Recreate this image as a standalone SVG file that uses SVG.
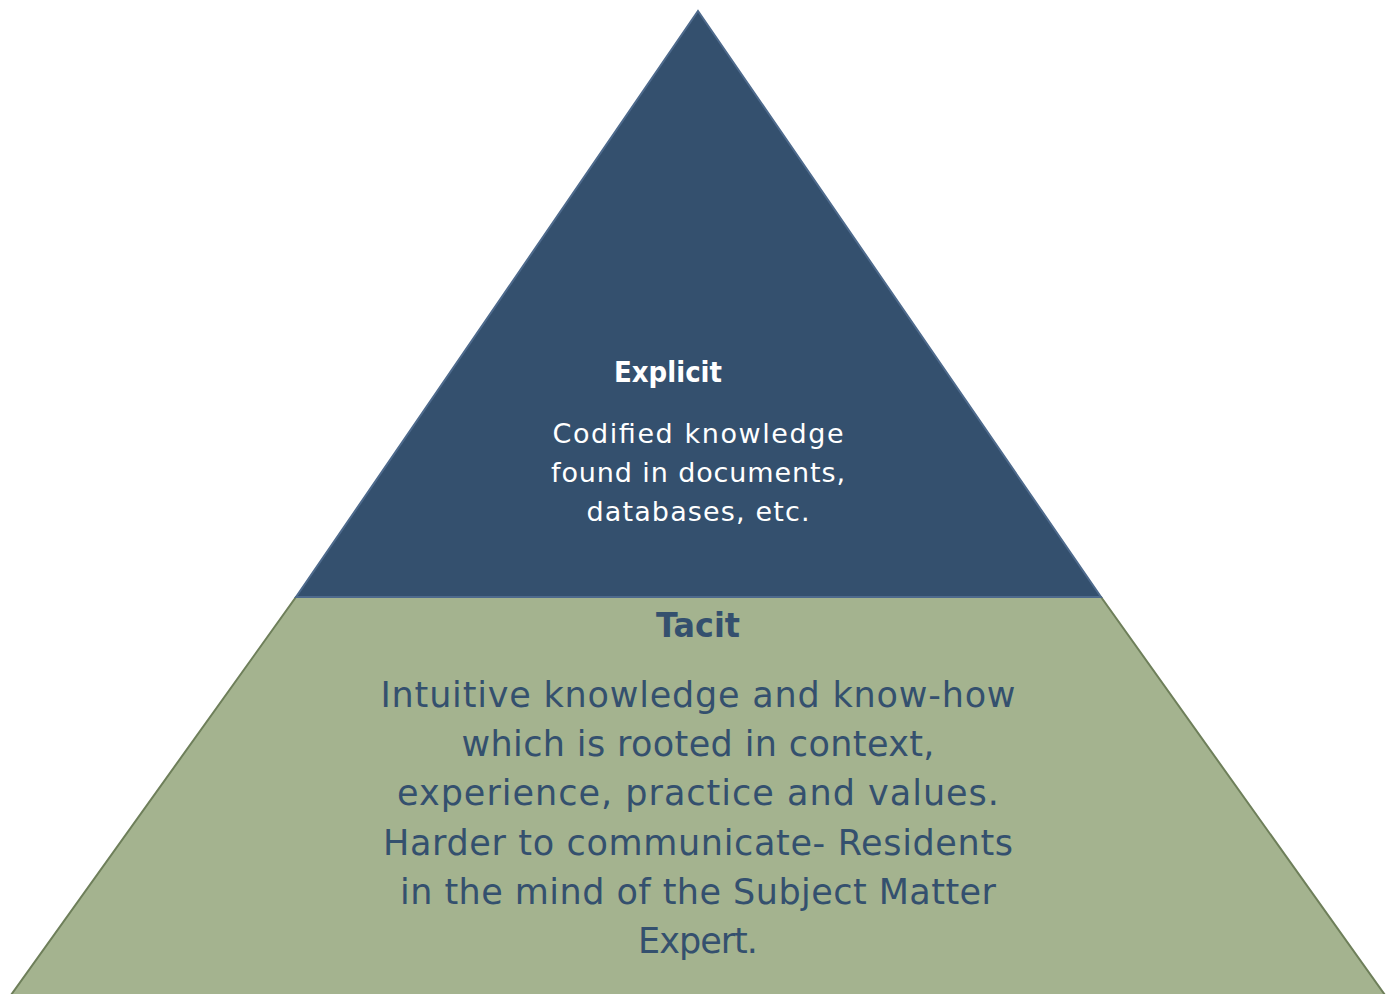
<svg xmlns="http://www.w3.org/2000/svg" width="1392" height="994" viewBox="0 0 1392 994">
  <style>
    .explicit { fill: #34506E; stroke: #4E6A8C; stroke-width: 2; }
    .tacit { fill: #A4B38F; stroke: #6E7F5A; stroke-width: 2; }
    text { font-family: "DejaVu Sans", "Liberation Sans", sans-serif; text-anchor: middle; }
    .head-w { fill: #FFFFFF; font-weight: bold; font-size: 28px; }
    .body-w { fill: #FFFFFF; font-size: 27px; }
    .head-b { fill: #34506E; font-weight: bold; font-size: 34px; }
    .body-b { fill: #34506E; font-size: 35px; }
  </style>
  <rect width="1392" height="994" fill="#FFFFFF"/>
  <!-- lower tier: tacit knowledge -->
  <g id="tacit">
    <polygon class="tacit" points="296,597 1101,597 1385,995 11,995"/>
    <text class="head-b" x="698" y="637" textLength="84" lengthAdjust="spacingAndGlyphs">Tacit</text>
    <text class="body-b" x="698" y="707" textLength="635" lengthAdjust="spacing">Intuitive knowledge and know-how</text>
    <text class="body-b" x="698" y="756" textLength="473" lengthAdjust="spacing">which is rooted in context,</text>
    <text class="body-b" x="698" y="805" textLength="602" lengthAdjust="spacing">experience, practice and values.</text>
    <text class="body-b" x="698" y="855" textLength="630" lengthAdjust="spacing">Harder to communicate- Residents</text>
    <text class="body-b" x="698" y="904" textLength="596" lengthAdjust="spacing">in the mind of the Subject Matter</text>
    <text class="body-b" x="698" y="953" textLength="120" lengthAdjust="spacing">Expert.</text>
  </g>
  <!-- upper tier: explicit knowledge -->
  <g id="explicit">
    <polygon class="explicit" points="698,11 1101,597 296,597"/>
    <text class="head-w" x="668" y="382" textLength="108" lengthAdjust="spacingAndGlyphs">Explicit</text>
    <text class="body-w" x="698" y="443" textLength="291" lengthAdjust="spacing">Codified knowledge</text>
    <text class="body-w" x="698" y="482" textLength="294" lengthAdjust="spacing">found in documents,</text>
    <text class="body-w" x="698" y="521" textLength="223" lengthAdjust="spacing">databases, etc.</text>
  </g>
</svg>
